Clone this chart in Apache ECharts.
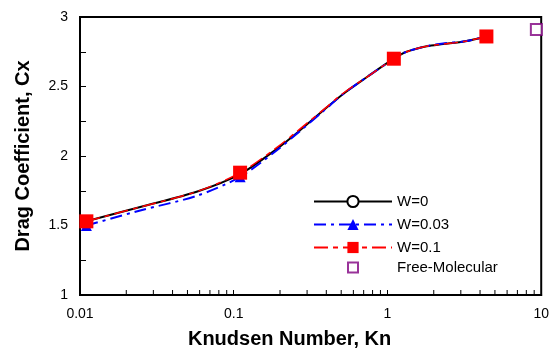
<!DOCTYPE html>
<html>
<head>
<meta charset="utf-8">
<script src="https://cdn.jsdelivr.net/npm/echarts@6/dist/echarts.min.js"></script>
<style>
  html, body { margin: 0; padding: 0; background: #fff; }
  #chart { width: 552px; height: 356px; }
</style>
</head>
<body>
<div id="chart"></div>
<script>
// Knudsen numbers sampled along each curve
const kn = [0.011, 0.025, 0.058, 0.11, 0.19, 0.27, 0.38, 0.52, 0.74, 1.1, 1.33, 1.8, 2.3, 3.2, 4.4];
// Drag coefficient for each wall parameter W
const cxW0   = [1.53, 1.635, 1.745, 1.87, 2.05, 2.185, 2.325, 2.45, 2.57, 2.70, 2.75, 2.79, 2.805, 2.825, 2.86];
const cxW003 = [1.50, 1.61, 1.715, 1.85, 2.04, 2.18, 2.32, 2.45, 2.57, 2.70, 2.75, 2.79, 2.81, 2.825, 2.86];
const cxW01  = [1.53, 1.635, 1.745, 1.88, 2.06, 2.195, 2.33, 2.455, 2.57, 2.70, 2.75, 2.79, 2.805, 2.825, 2.86];
// Indices of the computed points that carry a marker
const markerIdx = [0, 3, 9, 14];
// Free-molecular limit
const freeMolecularKn = [9.3];
const freeMolecularCx = [2.91];
// Minor log ticks (2..9 in each decade)
const minorTickKn = [0.02, 0.03, 0.04, 0.05, 0.06, 0.07, 0.08, 0.09,
                     0.2, 0.3, 0.4, 0.5, 0.6, 0.7, 0.8, 0.9,
                     2, 3, 4, 5, 6, 7, 8, 9];
const seriesNames = ['W=0', 'W=0.03', 'W=0.1'];
const fmName = 'Free-Molecular';

function lineData(ys) {
  return kn.map((k, i) => markerIdx.includes(i)
    ? { value: [k, ys[i]] }
    : { value: [k, ys[i]], symbol: 'none' });
}

const FONT = 'Liberation Sans, Arial, sans-serif';
const chart = echarts.init(document.getElementById('chart'), null, { renderer: 'canvas' });

chart.setOption({
  animation: false,
  backgroundColor: '#fff',
  grid: {
    left: 80, right: 6, top: 17, bottom: 61,
    show: true, borderColor: '#000', borderWidth: 2, backgroundColor: 'transparent'
  },
  legend: [
    {
      data: seriesNames,
      orient: 'vertical',
      left: 313, top: 194,
      itemWidth: 78, itemHeight: 14, itemGap: 8,
      padding: 0,
      textStyle: { fontFamily: FONT, fontSize: 15, color: '#000' },
      selectedMode: false
    },
    {
      // square marker only; the text is pushed over to line up with the rows above
      data: [fmName],
      orient: 'vertical',
      left: 347, top: 260,
      itemWidth: 10, itemHeight: 10,
      padding: 0,
      textStyle: { fontFamily: FONT, fontSize: 15, color: '#000', padding: [0, 0, 0, 34] },
      selectedMode: false
    }
  ],
  xAxis: {
    type: 'log',
    logBase: 10,
    min: 0.01, max: 10,
    name: 'Knudsen Number, Kn',
    nameLocation: 'middle',
    nameGap: 34,
    nameTextStyle: { fontFamily: FONT, fontSize: 20, fontWeight: 'bold', color: '#000', padding: [0, 42, 0, 0] },
    axisLine: { show: true, onZero: false, lineStyle: { color: '#000', width: 2 } },
    axisTick: { show: true, inside: true, length: 5, lineStyle: { color: '#000', width: 1 } },
    axisLabel: { fontFamily: FONT, fontSize: 14, color: '#000', margin: 12 },
    splitLine: { show: false }
  },
  yAxis: {
    type: 'value',
    min: 1, max: 3, interval: 0.5,
    name: 'Drag Coefficient, Cx',
    nameLocation: 'middle',
    nameGap: 47,
    nameTextStyle: { fontFamily: FONT, fontSize: 20, fontWeight: 'bold', color: '#000' },
    axisLine: { show: true, onZero: false, lineStyle: { color: '#000', width: 2 } },
    axisTick: { show: true, inside: true, length: 6, lineStyle: { color: '#000', width: 1 } },
    minorTick: { show: true, splitNumber: 2, length: 6, lineStyle: { color: '#000', width: 1 } },
    axisLabel: { fontFamily: FONT, fontSize: 14, color: '#000', margin: 12 },
    splitLine: { show: false }
  },
  series: [
    {
      type: 'custom',
      silent: true,
      data: minorTickKn.map(k => [k, 1]),
      renderItem: function (params, api) {
        const p = api.coord([api.value(0), api.value(1)]);
        return {
          type: 'line',
          shape: { x1: p[0], y1: p[1], x2: p[0], y2: p[1] - 5 },
          style: { stroke: '#000', lineWidth: 1 }
        };
      },
      z: 1
    },
    {
      name: seriesNames[0],
      type: 'line',
      data: lineData(cxW0),
      smooth: 0.3,
      symbol: 'circle',
      symbolSize: 9,
      showAllSymbol: true,
      color: '#000',
      itemStyle: { color: '#fff', borderColor: '#000', borderWidth: 1.5 },
      lineStyle: { color: '#000', width: 2 },
      z: 3
    },
    {
      name: seriesNames[1],
      type: 'line',
      data: lineData(cxW003),
      smooth: 0.3,
      symbol: 'triangle',
      symbolSize: 11,
      showAllSymbol: true,
      color: '#0000ff',
      itemStyle: { color: '#0000ff' },
      lineStyle: { color: '#0000ff', width: 2, type: [12, 5, 3, 5] },
      z: 4
    },
    {
      name: seriesNames[2],
      type: 'line',
      data: lineData(cxW01),
      smooth: 0.3,
      symbol: 'rect',
      symbolSize: 14,
      showAllSymbol: true,
      color: '#ff0000',
      itemStyle: { color: '#ff0000' },
      lineStyle: { color: '#ff0000', width: 1.5, type: [14, 5, 5, 5] },
      z: 5
    },
    {
      name: fmName,
      type: 'scatter',
      data: freeMolecularKn.map((k, i) => [k, freeMolecularCx[i]]),
      symbol: 'rect',
      symbolSize: 11,
      color: '#800080',
      itemStyle: { color: '#fff', borderColor: '#800080', borderWidth: 2 },
      z: 6
    }
  ]
});
</script>
</body>
</html>
